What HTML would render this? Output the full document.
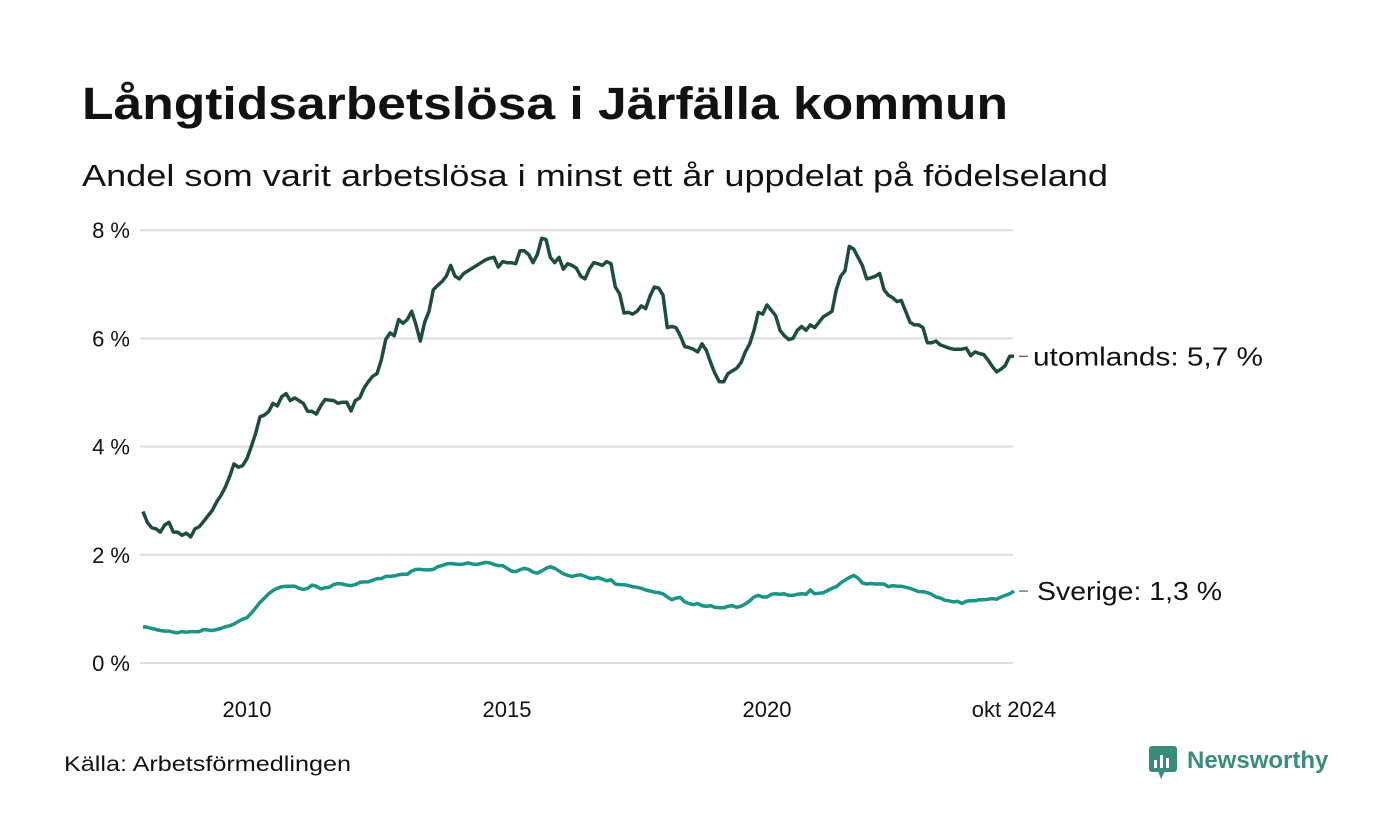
<!DOCTYPE html>
<html><head><meta charset="utf-8"><style>
body{margin:0;background:#fff;font-family:"Liberation Sans",sans-serif;}
#wrap{position:relative;width:1400px;height:840px;overflow:hidden}
</style></head><body>
<div id="wrap">
<svg width="1400" height="840" xmlns="http://www.w3.org/2000/svg">
<text x="82" y="119" font-size="45" font-weight="bold" fill="#111" font-family="Liberation Sans, sans-serif" textLength="926" lengthAdjust="spacingAndGlyphs">Långtidsarbetslösa i Järfälla kommun</text>
<text x="82" y="186" font-size="31" fill="#111" font-family="Liberation Sans, sans-serif" textLength="1026" lengthAdjust="spacingAndGlyphs">Andel som varit arbetslösa i minst ett år uppdelat på födelseland</text>
<g id="grid"></g><g id="lines"></g>
<text x="64" y="771" font-size="21" fill="#111" textLength="287" lengthAdjust="spacingAndGlyphs">Källa: Arbetsförmedlingen</text>
<g>
<rect x="1149" y="746" width="28" height="26" rx="3" fill="#3a8c7a"/>
<polygon points="1158,771 1165,771 1161,779" fill="#3a8c7a"/>
<rect x="1154" y="760" width="3" height="8" fill="#fff"/><rect x="1160" y="755" width="3" height="13" fill="#fff"/><rect x="1166" y="758" width="3" height="10" fill="#fff"/>
<text x="1187" y="768" font-size="24" font-weight="bold" fill="#3a8c7a">Newsworthy</text>
</g>
</svg></div>
<script>
const yTicks=[0,2,4,6,8];
const yTickLabels=["0 %","2 %","4 %","6 %","8 %"];
const xTicks=[2010,2015,2020,2024.75];
const xTickLabels=["2010","2015","2020","okt 2024"];
const startYear=2008;
const utomlands=[2.8,2.6,2.5,2.48,2.42,2.55,2.6,2.42,2.42,2.36,2.4,2.33,
2.48,2.52,2.62,2.72,2.82,2.98,3.1,3.25,3.45,3.68,3.62,3.65,
3.78,4.0,4.25,4.55,4.58,4.65,4.8,4.75,4.92,4.98,4.85,4.9,
4.85,4.8,4.65,4.65,4.6,4.75,4.87,4.86,4.85,4.8,4.82,4.82,
4.66,4.85,4.9,5.08,5.2,5.3,5.35,5.6,5.98,6.1,6.05,6.35,
6.28,6.35,6.5,6.25,5.95,6.3,6.5,6.9,6.98,7.05,7.15,7.35,
7.15,7.1,7.2,7.25,7.3,7.35,7.4,7.45,7.48,7.5,7.32,7.42,
7.4,7.4,7.38,7.62,7.62,7.55,7.4,7.55,7.85,7.83,7.5,7.4,
7.5,7.28,7.38,7.35,7.3,7.15,7.1,7.28,7.4,7.38,7.35,7.42,
7.38,6.95,6.82,6.47,6.48,6.45,6.5,6.6,6.55,6.78,6.95,6.93,
6.8,6.2,6.22,6.2,6.05,5.85,5.83,5.8,5.75,5.9,5.78,5.55,
5.35,5.2,5.2,5.35,5.4,5.45,5.55,5.75,5.9,6.15,6.48,6.45,
6.62,6.52,6.42,6.15,6.05,5.98,6.0,6.15,6.22,6.15,6.25,6.2,
6.3,6.4,6.45,6.5,6.9,7.15,7.25,7.7,7.65,7.5,7.35,7.1,
7.12,7.15,7.2,6.9,6.8,6.75,6.68,6.7,6.5,6.3,6.25,6.25,
6.2,5.92,5.92,5.95,5.88,5.85,5.82,5.8,5.8,5.8,5.82,5.68,
5.75,5.72,5.7,5.6,5.48,5.38,5.43,5.5,5.67,5.67];
const sverige=[0.67,0.66,0.64,0.62,0.6,0.59,0.59,0.57,0.56,0.58,0.57,0.58,
0.58,0.58,0.62,0.61,0.6,0.62,0.64,0.67,0.69,0.72,0.77,0.81,
0.84,0.92,1.02,1.12,1.2,1.28,1.34,1.38,1.41,1.42,1.42,1.42,
1.38,1.36,1.38,1.44,1.42,1.37,1.39,1.4,1.45,1.47,1.46,1.44,
1.43,1.45,1.49,1.5,1.5,1.53,1.56,1.56,1.6,1.6,1.61,1.63,
1.64,1.64,1.7,1.73,1.73,1.72,1.72,1.73,1.78,1.8,1.83,1.84,
1.83,1.82,1.83,1.85,1.83,1.82,1.84,1.86,1.85,1.82,1.8,1.8,
1.75,1.7,1.69,1.72,1.75,1.73,1.68,1.66,1.7,1.75,1.78,1.75,
1.7,1.65,1.62,1.6,1.62,1.63,1.6,1.57,1.56,1.58,1.55,1.52,
1.54,1.46,1.45,1.45,1.43,1.41,1.4,1.38,1.35,1.33,1.31,1.3,
1.28,1.22,1.17,1.2,1.21,1.13,1.1,1.08,1.1,1.06,1.05,1.06,
1.03,1.02,1.02,1.05,1.06,1.03,1.05,1.09,1.15,1.22,1.25,1.22,
1.22,1.27,1.28,1.27,1.28,1.25,1.25,1.27,1.28,1.27,1.35,1.28,
1.29,1.3,1.34,1.38,1.41,1.48,1.53,1.58,1.62,1.57,1.48,1.46,
1.47,1.46,1.46,1.46,1.41,1.43,1.42,1.42,1.4,1.38,1.35,1.32,
1.32,1.3,1.27,1.22,1.2,1.16,1.15,1.13,1.14,1.1,1.14,1.15,
1.15,1.17,1.17,1.18,1.19,1.18,1.22,1.25,1.28,1.33];
const ns="http://www.w3.org/2000/svg";
function X(t){return 247+(t-2010)*52;}
function Y(v){return 663-v*54.1;}
function mk(tag,attrs,parent){const e=document.createElementNS(ns,tag);for(const k in attrs)e.setAttribute(k,attrs[k]);parent.appendChild(e);return e;}
const grid=document.getElementById('grid'),lines=document.getElementById('lines');
yTicks.forEach((v,i)=>{
 const l=mk('line',{x1:140,x2:1013,y1:Y(v),y2:Y(v),stroke:'#dedede','stroke-width':2},grid);
 
 
 const t=mk('text',{x:130,y:Y(v)+8,'font-size':22,fill:'#111','text-anchor':'end'},grid);
 t.textContent=yTickLabels[i];
 
 
});
xTicks.forEach((v,i)=>{
 const t=mk('text',{x:X(v),y:717,'font-size':22,fill:'#111','text-anchor':'middle'},grid);
 t.textContent=xTickLabels[i];
 
 
});
function draw(arr,color,name,label,len,dx){
 const pts=arr.map((v,i)=>X(startYear+i/12).toFixed(1)+','+Y(v).toFixed(1)).join(' ');
 const p=mk('polyline',{points:pts,fill:'none',stroke:color,'stroke-width':3.5,'stroke-linejoin':'round'},lines);
 
 
 const last=arr[arr.length-1],lx=X(startYear+(arr.length-1)/12);
 mk('line',{x1:lx+5,x2:lx+14,y1:Y(last),y2:Y(last),stroke:'#333','stroke-width':1},lines);
 const t=mk('text',{x:lx+dx,y:Y(last)+9,'font-size':26,fill:'#111',textLength:len,lengthAdjust:'spacingAndGlyphs'},lines);
 t.textContent=label+': '+last.toFixed(1).replace('.',',')+' %';
 
 
}
draw(sverige,'#1a9484','sverige-line','Sverige',185,23);
draw(utomlands,'#1e4d40','utomlands-line','utomlands',230,19);
</script>
</body></html>
